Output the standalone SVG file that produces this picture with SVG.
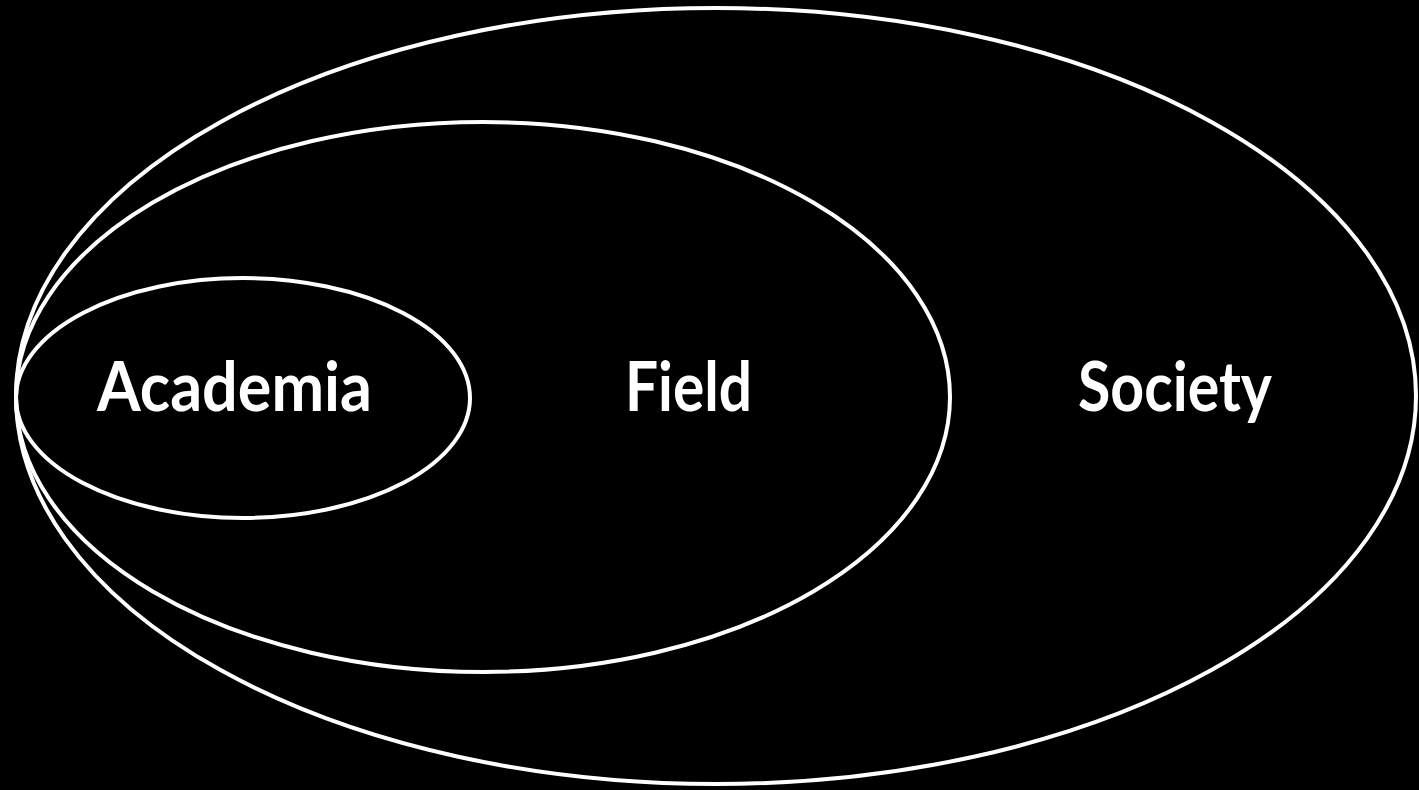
<svg xmlns="http://www.w3.org/2000/svg" width="1419" height="790" viewBox="0 0 1419 790">
<style>
.ring{fill:none;stroke:#fff;stroke-width:4}
.lbl{fill:#fff;font-family:Lato,"Liberation Sans",sans-serif;font-weight:700;font-size:68px}
</style>
<rect width="1419" height="790" fill="#000"/>
<g id="society">
<ellipse class="ring" cx="716" cy="396" rx="700" ry="388"/>
<text class="lbl" x="1078" y="411" textLength="194" lengthAdjust="spacingAndGlyphs">Society</text>
</g>
<g id="field">
<ellipse class="ring" cx="483" cy="397" rx="467" ry="275"/>
<text class="lbl" x="625" y="411" textLength="127" lengthAdjust="spacingAndGlyphs">Field</text>
</g>
<g id="academia">
<ellipse class="ring" cx="243" cy="398" rx="227" ry="120"/>
<text class="lbl" x="97" y="411" textLength="275" lengthAdjust="spacingAndGlyphs">Academia</text>
</g>
<g id="connectors"/>
</svg>
